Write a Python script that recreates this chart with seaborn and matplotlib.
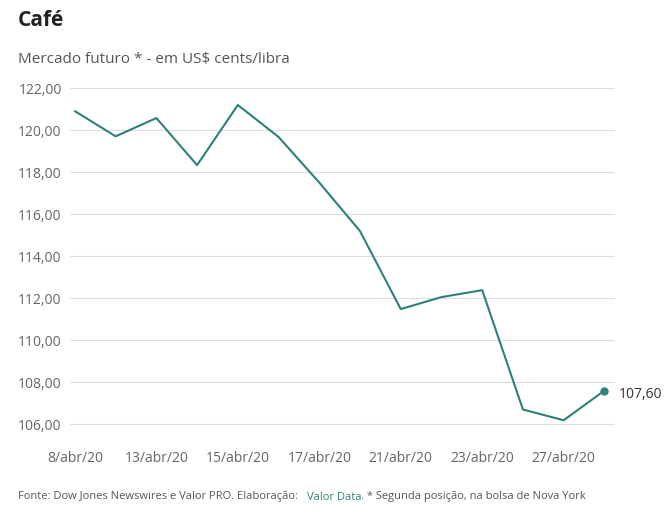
import matplotlib
matplotlib.use("Agg")
import matplotlib.pyplot as plt
import seaborn as sns
import pandas as pd

dates = ["8/abr/20", "9/abr/20", "13/abr/20", "14/abr/20", "15/abr/20", "16/abr/20",
         "17/abr/20", "20/abr/20", "21/abr/20", "22/abr/20", "23/abr/20", "24/abr/20",
         "27/abr/20", "28/abr/20"]
prices = [120.90, 119.70, 120.57, 118.33, 121.19, 119.67, 117.50, 115.19,
          111.48, 112.05, 112.38, 106.70, 106.19, 107.60]
yticks = [106, 108, 110, 112, 114, 116, 118, 120, 122]

df = pd.DataFrame({"pos": range(len(dates)), "price": prices})
color = "#2e8078"

sns.set_style("white")
plt.rcParams['font.family'] = ['Open Sans', 'DejaVu Sans']

fig = plt.figure(figsize=(6.64, 5.19), dpi=100)
ax = fig.add_axes([70 / 664, 1 - 440 / 519, 545 / 664, 352 / 519])
sns.lineplot(data=df, x="pos", y="price", color=color, linewidth=1.5, ax=ax)
ax.scatter([df.pos.iloc[-1]], [prices[-1]], color=color, s=25, zorder=3)
ax.annotate("107,60", (df.pos.iloc[-1], prices[-1]), xytext=(10, -5),
            textcoords="offset points", fontsize=10, color="#333333")

ax.set_ylim(105.25, 122.0)
ax.set_xlim(-0.12, 13.26)
ax.set_yticks(yticks)
ax.set_yticklabels([f"{v:.2f}".replace(".", ",") for v in yticks], fontsize=10, color="#666666")
ax.set_xticks(range(0, len(dates), 2))
ax.set_xticklabels(dates[::2], fontsize=10, color="#666666")
ax.tick_params(axis="y", length=0, pad=6)
ax.tick_params(axis="x", length=0, pad=8)
ax.grid(axis="y", color="#dddddd", linewidth=0.8)
ax.set_axisbelow(True)
for s in ax.spines.values():
    s.set_visible(False)
ax.set_xlabel("")
ax.set_ylabel("")

fig.text(18 / 664, 1 - 20 / 519, "Café", fontsize=15, fontweight="bold", color="#222222", va="center")
fig.text(18 / 664, 1 - 60 / 519, "Mercado futuro * - em US$ cents/libra", fontsize=11, color="#555555", va="center")
fig.text(18 / 664, 1 - 497 / 519, "Fonte: Dow Jones Newswires e Valor PRO. Elaboração: ", fontsize=8, color="#555555", va="center")
t2 = fig.text(307 / 664, 1 - 497 / 519, "Valor Data", fontsize=8, color=color, va="center")
fig.text(361 / 664, 1 - 497 / 519, ". * Segunda posição, na bolsa de Nova York", fontsize=8, color="#555555", va="center")

fig.savefig("out.png", dpi=100)
